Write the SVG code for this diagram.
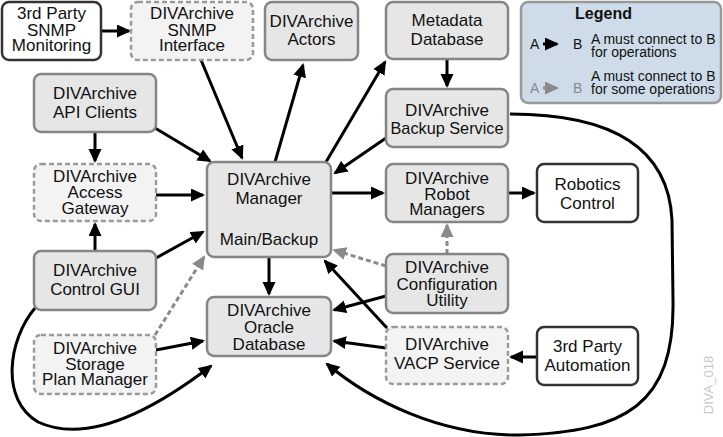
<svg xmlns="http://www.w3.org/2000/svg" width="723" height="437" viewBox="0 0 723 437">
<style>
.n rect{stroke-width:2.5}
.g rect{fill:#e6e6e6;stroke:#858585}
.d rect{fill:#f3f3f3;stroke:#9a9a9a;stroke-dasharray:5 3}
.w rect{fill:#fff;stroke:#333}
text{font-family:"Liberation Sans",Arial,sans-serif;font-size:17px;fill:#111;text-anchor:middle}
.c path{fill:none;stroke:#000;stroke-width:3;marker-end:url(#ah)}
.c path.s{stroke:#8a8a8a;stroke-dasharray:5 3;marker-end:url(#ag)}
.lg{font-size:14px;text-anchor:start}
</style>
<defs>
<marker id="ah" markerUnits="userSpaceOnUse" markerWidth="15" markerHeight="14" refX="12" refY="6.5" orient="auto"><path d="M0,0 L14,6.5 L0,13 z" fill="#000"/></marker>
<marker id="ag" markerUnits="userSpaceOnUse" markerWidth="15" markerHeight="14" refX="12" refY="6.5" orient="auto"><path d="M0,0 L14,6.5 L0,13 z" fill="#8a8a8a"/></marker>
</defs>
<rect width="723" height="437" fill="#fff"/>

<g id="connectors" class="c">
<path d="M101,31 L129,31"/>
<path d="M201,60 L242,158"/>
<path d="M275,162 L303,65"/>
<path d="M326,162 L385,62"/>
<path d="M447,60 L447,86"/>
<path d="M386,138 L335,173"/>
<path d="M155,128 L210,161"/>
<path d="M95,132 L95,161"/>
<path d="M156,195 L203,195"/>
<path d="M331,193 L383,193"/>
<path d="M508,193 L534,193"/>
<path d="M95,251 L95,224"/>
<path d="M156,258 L203,232"/>
<path class="s" d="M155,335 L204,257"/>
<path d="M156,350 L203,341"/>
<path d="M269,257 L269,294"/>
<path class="s" d="M386,266 L334,250"/>
<path class="s" d="M447,254 L447,225"/>
<path d="M386,296 L334,310"/>
<path d="M387,328 L325,261"/>
<path d="M386,348 L334,341"/>
<path d="M537,357 L511,357"/>
<path d="M35,308 C8,340 0,400 38,422 C90,446 160,405 211,366"/>
<path d="M510,114 C600,114 668,140 672,220 L673,300 C675,405 625,432 520,435 C440,436 370,400 327,364"/>
</g>

<g id="snmp-monitoring" class="n w"><rect x="2" y="2" width="99" height="58" rx="7"/><text x="51.5" y="19">3rd Party<tspan x="51.5" y="35.5">SNMP</tspan><tspan x="51.5" y="51">Monitoring</tspan></text></g>
<g id="snmp-interface" class="n d"><rect x="131" y="2" width="122" height="58" rx="7"/><text x="192" y="19">DIVArchive<tspan x="192" y="35.5">SNMP</tspan><tspan x="192" y="51">Interface</tspan></text></g>
<g id="actors" class="n g"><rect x="265" y="2" width="93" height="58" rx="7"/><text x="311.5" y="26.5">DIVArchive<tspan x="311.5" y="45">Actors</tspan></text></g>
<g id="metadata-db" class="n g"><rect x="386" y="2" width="122" height="57" rx="7"/><text x="447" y="25.5">Metadata<tspan x="447" y="45">Database</tspan></text></g>
<g id="api-clients" class="n g"><rect x="34" y="74" width="122" height="58" rx="7"/><text x="95" y="99">DIVArchive<tspan x="95" y="117.5">API Clients</tspan></text></g>
<g id="backup-service" class="n g"><rect x="386" y="89" width="122" height="58" rx="7"/><text x="447" y="115.5">DIVArchive</text><text x="447" y="133.5" textLength="113" lengthAdjust="spacingAndGlyphs">Backup Service</text></g>
<g id="access-gateway" class="n d"><rect x="34" y="164" width="122" height="57" rx="7"/><text x="95" y="181.5">DIVArchive<tspan x="95" y="197.5">Access</tspan><tspan x="95" y="213.5">Gateway</tspan></text></g>
<g id="manager" class="n g"><rect x="207" y="162" width="124" height="95" rx="7"/><text x="269" y="185">DIVArchive<tspan x="269" y="204">Manager</tspan><tspan x="269" y="245">Main/Backup</tspan></text></g>
<g id="robot-managers" class="n g"><rect x="386" y="164" width="122" height="58" rx="7"/><text x="447" y="183.5">DIVArchive<tspan x="447" y="199.5">Robot</tspan><tspan x="447" y="215">Managers</tspan></text></g>
<g id="robotics-control" class="n w"><rect x="537" y="164" width="101" height="58" rx="7"/><text x="587.5" y="189.5">Robotics<tspan x="587.5" y="208.5">Control</tspan></text></g>
<g id="control-gui" class="n g"><rect x="34" y="251" width="122" height="59" rx="7"/><text x="95" y="276">DIVArchive<tspan x="95" y="295">Control GUI</tspan></text></g>
<g id="config-utility" class="n g"><rect x="386" y="254" width="122" height="59" rx="7"/><text x="447" y="272.5">DIVArchive<tspan x="447" y="289.5">Configuration</tspan><tspan x="447" y="306">Utility</tspan></text></g>
<g id="oracle-db" class="n g"><rect x="207" y="297" width="124" height="59" rx="7"/><text x="269" y="315.5">DIVArchive<tspan x="269" y="332.5">Oracle</tspan><tspan x="269" y="350">Database</tspan></text></g>
<g id="storage-plan-manager" class="n d"><rect x="34" y="335" width="122" height="59" rx="7"/><text x="95" y="354">DIVArchive<tspan x="95" y="369.5">Storage</tspan><tspan x="95" y="385">Plan Manager</tspan></text></g>
<g id="vacp-service" class="n d"><rect x="386" y="327" width="122" height="57" rx="7"/><text x="447" y="350">DIVArchive<tspan x="447" y="369">VACP Service</tspan></text></g>
<g id="automation" class="n w"><rect x="537" y="327" width="101" height="58" rx="7"/><text x="587.5" y="351.5">3rd Party<tspan x="587.5" y="371">Automation</tspan></text></g>

<g id="legend">
<rect x="521" y="2" width="200" height="101" rx="7" fill="#cddce8" stroke="#999" stroke-width="2.5"/>
<text x="603.5" y="19" style="font-weight:bold;font-size:16px">Legend</text>
<text class="lg" x="530" y="49">A</text>
<path d="M543,44 L557,44" stroke="#000" stroke-width="3" marker-end="url(#ah)"/>
<text class="lg" x="573" y="49">B</text>
<text class="lg" x="591" y="44">A must connect to B<tspan x="591" y="57">for operations</tspan></text>
<text class="lg" x="530" y="93" style="fill:#8a8a8a">A</text>
<path d="M543,88 L557,88" stroke="#8a8a8a" stroke-width="3" stroke-dasharray="3 3" marker-end="url(#ag)"/>
<text class="lg" x="573" y="93" style="fill:#8a8a8a">B</text>
<text class="lg" x="591" y="81">A must connect to B<tspan x="591" y="94">for some operations</tspan></text>
</g>

<text x="713" y="385" transform="rotate(-90 713 385)" style="font-size:13px;fill:#c8c8c8">DIVA_018</text>
</svg>
